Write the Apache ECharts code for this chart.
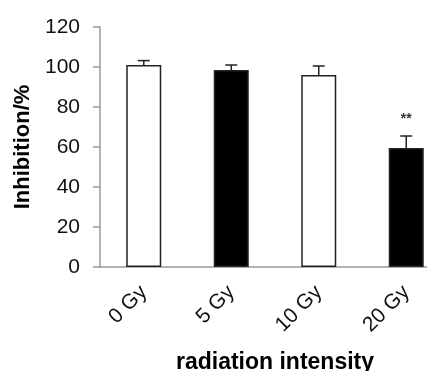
<!DOCTYPE html>
<html>
<head>
<meta charset="utf-8">
<style>
  html, body { margin: 0; padding: 0; background: #fff; overflow: hidden; }
  /* the original figure is cropped on the right, so the chart is wider than the window */
  #chart { width: 450px; height: 371px; }
</style>
<script src="https://cdn.jsdelivr.net/npm/echarts@6/dist/echarts.min.js"></script>
</head>
<body>
<div id="chart"></div>
<script>
const categories = ['0 Gy', '5 Gy', '10 Gy', '20 Gy'];
const values = [101, 98.5, 96, 59.5];
const errors = [2.2, 2.5, 4.5, 6];
const fills = ['#ffffff', '#000000', '#ffffff', '#000000'];
const marks = ['', '', '', '**'];

const chart = echarts.init(document.getElementById('chart'));

const option = {
  animation: false,
  grid: { left: 100, top: 27, bottom: 104, right: 0, outerBoundsMode: 'none' },
  xAxis: {
    type: 'category',
    data: categories,
    name: 'radiation intensity',
    nameLocation: 'middle',
    nameGap: 84,
    nameTextStyle: { fontFamily: 'Liberation Sans', fontWeight: 'bold', fontSize: 23, color: '#000' },
    axisLine: { lineStyle: { color: '#999', width: 1.5 } },
    axisTick: { show: false },
    axisLabel: {
      rotate: 45,
      margin: 22,
      fontFamily: 'Liberation Sans',
      fontSize: 21,
      color: '#111'
    }
  },
  yAxis: {
    type: 'value',
    min: 0,
    max: 120,
    interval: 20,
    name: 'Inhibition/%',
    nameLocation: 'middle',
    nameGap: 66,
    nameTextStyle: { fontFamily: 'Liberation Sans', fontWeight: 'bold', fontSize: 22, color: '#000' },
    axisLine: { show: true, lineStyle: { color: '#999', width: 1.5 } },
    axisTick: { show: true, length: 7, lineStyle: { color: '#999', width: 1.5 } },
    splitLine: { show: false },
    axisLabel: { margin: 20, fontFamily: 'Liberation Sans', fontSize: 21, color: '#111' }
  },
  series: [
    {
      type: 'bar',
      barWidth: 35,
      data: values.map((v, i) => ({
        value: v,
        itemStyle: { color: fills[i], borderColor: '#222', borderWidth: 1.5 }
      })),
      z: 2
    },
    {
      type: 'custom',
      z: 3,
      data: values.map((v, i) => [i, v, errors[i]]),
      renderItem: (params, api) => {
        const i = api.value(0);
        const top = api.coord([i, api.value(1) + api.value(2)]);
        const base = api.coord([i, api.value(1)]);
        const half = 6;
        const children = [
          { type: 'line', shape: { x1: base[0], y1: base[1], x2: top[0], y2: top[1] }, style: { stroke: '#222', lineWidth: 1.5 } },
          { type: 'line', shape: { x1: top[0] - half, y1: top[1], x2: top[0] + half, y2: top[1] }, style: { stroke: '#222', lineWidth: 1.5 } }
        ];
        if (marks[i]) {
          children.push({
            type: 'text',
            style: {
              text: marks[i], x: top[0], y: top[1] - 10,
              align: 'center', verticalAlign: 'bottom',
              font: 'bold 14px "Liberation Sans"', fill: '#334'
            }
          });
        }
        return { type: 'group', children };
      }
    }
  ]
};

chart.setOption(option);
</script>
</body>
</html>
